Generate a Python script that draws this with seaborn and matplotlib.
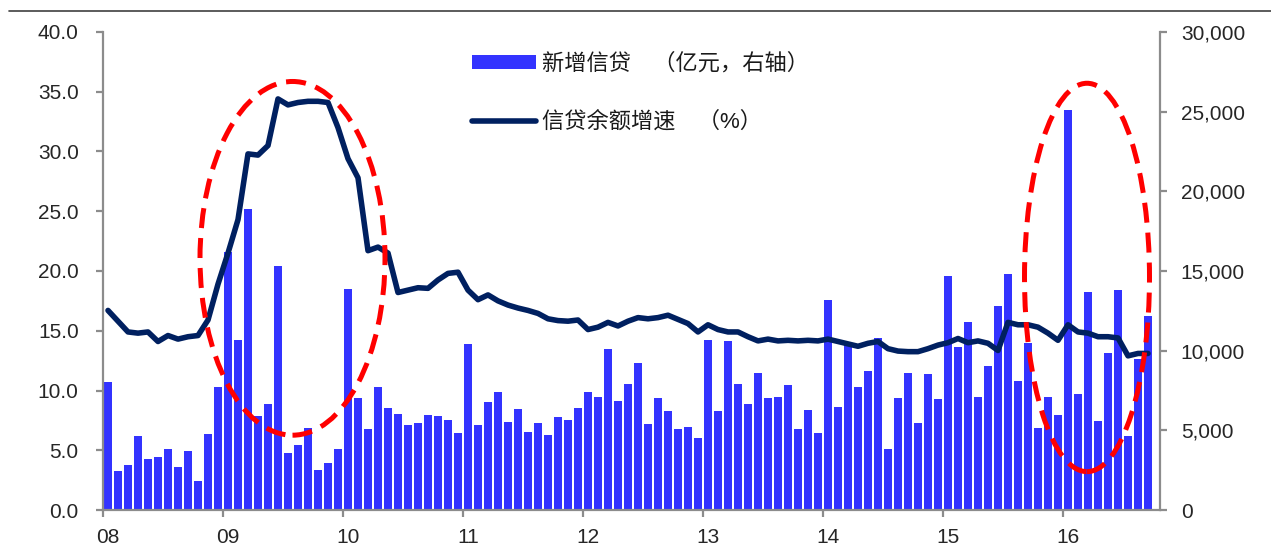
import numpy as np
import pandas as pd
import matplotlib
matplotlib.use("Agg")
import matplotlib.pyplot as plt
import seaborn as sns
from matplotlib.patches import Ellipse, Patch
from matplotlib.lines import Line2D
from matplotlib.ticker import FixedLocator, FuncFormatter, NullFormatter

# Monthly data, Jan 2008 - Sep 2016
year_labels = ["08", "09", "10", "11", "12", "13", "14", "15", "16"]

# New RMB loans (100 million yuan), right axis
new_loans = [
    8037, 2443, 2834, 4645, 3185, 3318, 3828, 2715, 3702, 1811, 4769, 7717,      # 2008
    16200, 10700, 18900, 5918, 6645, 15300, 3559, 4104, 5167, 2530, 2948, 3798,  # 2009
    13900, 7000, 5107, 7740, 6394, 6034, 5328, 5452, 5955, 5873, 5640, 4807,     # 2010
    10400, 5356, 6794, 7396, 5516, 6339, 4925, 5485, 4700, 5868, 5622, 6405,     # 2011
    7381, 7107, 10100, 6818, 7932, 9198, 5401, 7039, 6232, 5053, 5229, 4543,     # 2012
    10700, 6200, 10600, 7929, 6674, 8605, 6999, 7113, 7870, 5061, 6246, 4825,    # 2013
    13200, 6445, 10500, 7747, 8708, 10800, 3852, 7025, 8572, 5483, 8527, 6973,   # 2014
    14700, 10200, 11800, 7079, 9008, 12800, 14800, 8096, 10500, 5136, 7089, 5978,  # 2015
    25100, 7266, 13700, 5556, 9855, 13800, 4636, 9487, 12200,                    # 2016
]

# Loan balance growth, YoY (%), left axis
loan_growth = [
    16.7, 15.8, 14.9, 14.8, 14.9, 14.1, 14.6, 14.3, 14.5, 14.6, 15.9, 18.9,      # 2008
    21.5, 24.3, 29.8, 29.7, 30.5, 34.4, 33.9, 34.1, 34.2, 34.2, 34.1, 32.0,      # 2009
    29.4, 27.8, 21.7, 22.0, 21.5, 18.2, 18.4, 18.6, 18.55, 19.25, 19.8, 19.9,    # 2010
    18.4, 17.6, 18.0, 17.5, 17.15, 16.9, 16.7, 16.45, 16.0, 15.85, 15.8, 15.9,   # 2011
    15.1, 15.3, 15.7, 15.4, 15.8, 16.1, 16.0, 16.1, 16.3, 15.95, 15.6, 14.9,     # 2012
    15.5, 15.1, 14.9, 14.9, 14.5, 14.15, 14.3, 14.15, 14.2, 14.15, 14.2, 14.15,  # 2013
    14.3, 14.1, 13.9, 13.7, 13.95, 14.1, 13.5, 13.3, 13.25, 13.25, 13.5, 13.8,   # 2014
    14.0, 14.35, 14.0, 14.15, 13.95, 13.35, 15.7, 15.5, 15.5, 15.3, 14.8, 14.2,  # 2015
    15.5, 14.9, 14.8, 14.5, 14.5, 14.4, 12.9, 13.1, 13.1,                        # 2016
]

legend_labels = ["新增信贷\u3000（亿元，右轴）", "信贷余额增速\u3000（%）"]

BAR_BLUE = "#3333FF"
NAVY = "#002060"
RED = "#FF0000"
GREY = "#8C8C8C"
TEXT = "#262626"

df = pd.DataFrame({
    "month": np.arange(len(new_loans)),
    "loans": new_loans,
    "growth": loan_growth,
})

sns.set_style("white")
plt.rcParams["font.family"] = ["Liberation Sans", "Noto Sans CJK SC", "DejaVu Sans"]

W, H = 1271, 559
fig = plt.figure(figsize=(W / 100, H / 100), dpi=100)
ax_bar = fig.add_axes([103 / W, 1 - 510 / H, (1160 - 103) / W, (510 - 32) / H])

# Bars: monthly new loans
sns.barplot(data=df, x="month", y="loans", ax=ax_bar, native_scale=True,
            color=BAR_BLUE, saturation=1, width=0.72, linewidth=0, zorder=2)

# Line: loan balance growth, drawn on a twin axis so it sits above the bars
ax_line = ax_bar.twinx()
sns.lineplot(data=df, x="month", y="growth", ax=ax_line, color=NAVY,
             linewidth=4, solid_capstyle="round", solid_joinstyle="round")

ax_bar.set_xlim(-0.5, 105.2)
ax_bar.set_ylim(0, 30000)
ax_line.set_ylim(0, 40)

# Axis sides: bars use the right axis, the growth line the left one
ax_bar.yaxis.tick_right()
ax_line.yaxis.tick_left()

for a in (ax_bar, ax_line):
    a.set_xlabel("")
    a.set_ylabel("")
    for s in a.spines.values():
        s.set_visible(False)

for side in ("left", "right", "bottom"):
    ax_bar.spines[side].set_visible(True)
    ax_bar.spines[side].set_color(GREY)
    ax_bar.spines[side].set_linewidth(1.6)

ax_bar.set_yticks(np.arange(0, 30001, 5000))
ax_bar.yaxis.set_major_formatter(FuncFormatter(lambda v, p: f"{v:,.0f}"))
ax_line.set_yticks(np.arange(0, 40.1, 5))
ax_line.yaxis.set_major_formatter(FuncFormatter(lambda v, p: f"{v:.1f}"))

# Year ticks on month boundaries, labels under each January bar
ax_bar.xaxis.set_major_locator(FixedLocator([-0.5 + 12 * k for k in range(len(year_labels))]))
ax_bar.xaxis.set_major_formatter(NullFormatter())
ax_bar.xaxis.set_minor_locator(FixedLocator([12 * k for k in range(len(year_labels))]))
ax_bar.set_xticklabels(year_labels, minor=True)

ax_bar.tick_params(axis="x", which="major", direction="out", length=5, width=1.6,
                   color=GREY, bottom=True)
ax_bar.tick_params(axis="x", which="minor", length=0, pad=13, labelsize=15,
                   labelcolor=TEXT, bottom=True)
ax_bar.tick_params(axis="y", which="major", direction="out", length=5, width=1.6,
                   color=GREY, pad=10, labelsize=15, labelcolor=TEXT, right=True, left=False)
ax_line.tick_params(axis="y", which="major", direction="out", length=5, width=1.6,
                    color=GREY, pad=12.5, labelsize=15, labelcolor=TEXT, left=True, right=False)

# Highlight the 2009 stimulus period and the early-2016 surge
dash = (0, (4, 2))
for (cx, cy, w, h) in [(18.45, 21.06, 18.5, 29.6), (97.9, 19.46, 12.5, 32.5)]:
    ax_line.add_patch(Ellipse((cx, cy), w, h, fill=False, edgecolor=RED,
                              linewidth=3.6, linestyle=dash, zorder=5, clip_on=False))

handles = [Patch(facecolor=BAR_BLUE, edgecolor="none"),
           Line2D([], [], color=NAVY, linewidth=4, solid_capstyle="round")]
leg = ax_line.legend(handles, legend_labels, loc="upper left",
                     bbox_to_anchor=(472 / W, 1 - 53 / H), bbox_transform=fig.transFigure,
                     frameon=False, fontsize=16, handlelength=2.9, handleheight=0.6,
                     handletextpad=0.25, labelspacing=1.68, borderpad=0, borderaxespad=0)
for t in leg.get_texts():
    t.set_color("#1a1a1a")

# Rule across the top of the figure
fig.add_artist(Line2D([9 / W, 1.0], [1 - 10.5 / H, 1 - 10.5 / H], transform=fig.transFigure,
                      color="#404040", linewidth=1.2))

fig.savefig("out.png", dpi=100)
